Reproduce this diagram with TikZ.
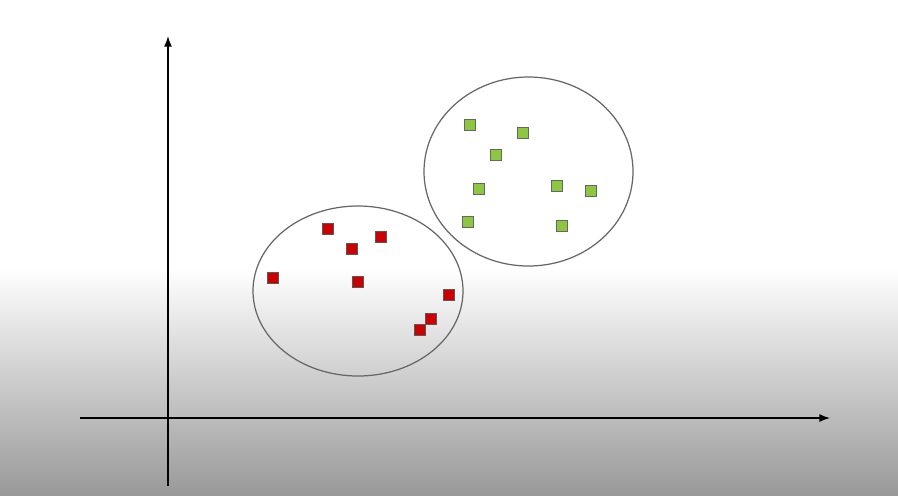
\documentclass[tikz,border=0pt]{standalone}
\usepackage{tikz}
\usepackage{xcolor}
\usetikzlibrary{arrows.meta, calc}

\definecolor{clusterred}{RGB}{204,0,0}
\definecolor{clustergreen}{RGB}{141,198,63}

\tikzset{
  axisline/.style={line width=0.8pt, -{Latex[length=6pt,width=4.5pt]}},
  cluster/.style={draw=black!60, line width=0.7pt},
  redpt/.style={fill=clusterred, draw=black!65, line width=0.5pt},
  greenpt/.style={fill=clustergreen, draw=black!60, line width=0.5pt}
}

\begin{document}
\begin{tikzpicture}[x=0.02cm, y=-0.02cm]
\useasboundingbox (0,0) rectangle (898,495);

% Background
\fill[white] (0,0) rectangle (898,268);
\shade[top color=white, bottom color=black!40] (0,268) rectangle (898,495);

% Axes
\coordinate (xstart) at (80,418);
\coordinate (xend) at (830,418);
\coordinate (ystart) at (168,486);
\coordinate (yend) at (168,36);
\draw[axisline] (xstart) -- (xend);
\draw[axisline] (ystart) -- (yend);

% Clusters
\draw[cluster] (358,291) ellipse (105 and 85);
\draw[cluster] (528.5,171.5) ellipse (104.5 and 94.5);

% Points
\foreach \x/\y in {328/229, 352/249, 381/237, 273/278, 358/282, 449/295, 431/319, 420/330} {
  \draw[redpt] (\x-5.5,\y-5.5) rectangle (\x+5.5,\y+5.5);
}
\foreach \x/\y in {470/125, 523/133, 496/155, 479/189, 557/186, 591/191, 468/222, 562/226} {
  \draw[greenpt] (\x-5.5,\y-5.5) rectangle (\x+5.5,\y+5.5);
}
\end{tikzpicture}
\end{document}
